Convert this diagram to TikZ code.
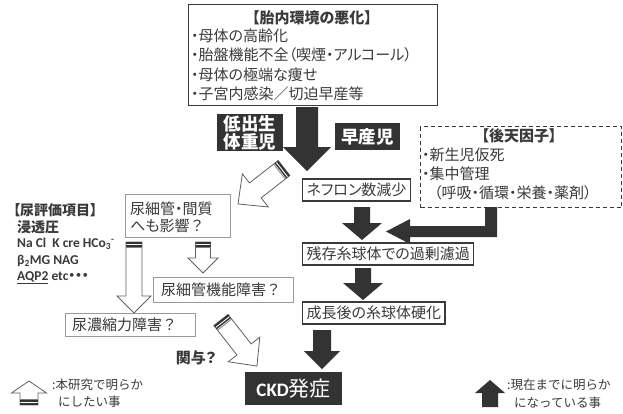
\documentclass[tikz,border=0pt]{standalone}
\usepackage{fontspec}
\setmainfont{Noto Sans CJK JP}[RawFeature=+palt]
\newfontfamily\jpm{Noto Sans CJK JP}
\newfontfamily\lat{Carlito}
\definecolor{dk}{HTML}{333333}
\definecolor{bx}{HTML}{3a3a3a}
\definecolor{lg}{HTML}{9a9a9a}
\newcommand{\fq}{{\jpm ？}}
\tikzset{
  jp/.style={inner sep=0pt, text=bx, font=\fontsize{15}{18}\selectfont},
  jpb/.style={inner sep=0pt, text=bx, font=\bfseries\fontsize{15}{18}\selectfont},
  jps/.style={inner sep=0pt, text=bx, font=\jpm\fontsize{12.5}{15}\selectfont},
  lt/.style={inner sep=0pt, text=bx, font=\lat\bfseries\fontsize{13.5}{16}\selectfont},
  rbox/.style={draw=bx, line width=1.1pt, inner sep=0pt},
  lbox/.style={draw=lg, line width=0.9pt, inner sep=0pt},
  dbox/.style={fill=dk, text=white, inner sep=0pt},
  wa/.style={draw=bx!80, line width=0.8pt, fill=white, line join=miter},
}
% #1 x, #2 y of tail centre, #3 angle, #4 length, #5 shaft half width, #6 head half width, #7 head length
\newcommand{\warrow}[7]{%
  \begin{scope}[shift={(#1,#2)}, rotate=#3]
    \draw[wa] (0,-#5) -- ({#4-#7},-#5) -- ({#4-#7},-#6) -- (#4,0) -- ({#4-#7},#6) -- ({#4-#7},#5) -- (0,#5) -- cycle;
    \fill[dk] (0,-#5) rectangle (2,#5);
    \fill[dk] (3.2,-#5) rectangle (4.6,#5);
    \fill[gray] (5.4,-#5) rectangle (6.2,#5);
  \end{scope}}
\newcommand{\darrow}[7]{%
  \begin{scope}[shift={(#1,#2)}, rotate=#3]
    \fill[dk] (0,-#5) -- ({#4-#7},-#5) -- ({#4-#7},-#6) -- (#4,0) -- ({#4-#7},#6) -- ({#4-#7},#5) -- (0,#5) -- cycle;
  \end{scope}}
\begin{document}
\begin{tikzpicture}[x=1pt, y=-1pt]
\useasboundingbox (0,0) rectangle (623,413);
\fill[white] (0,0) rectangle (623,413);

% top box
\node[rbox, anchor=north west, minimum width=249pt, minimum height=101pt] (env) at (188,4) {};
\node[jpb] (envt) at (312,18) {【胎内環境の悪化】};
\node[jp, anchor=west] (env1) at (191,36) {・母体の高齢化};
\node[jp, anchor=west] (env2) at (191,55) {・胎盤機能不全（喫煙・アルコール）};
\node[jp, anchor=west] (env3) at (191,75) {・母体の極端な痩せ};
\node[jp, anchor=west] (env4) at (191,94) {・子宮内感染／切迫早産等};

% dark labels
\node[dbox, anchor=north west, minimum width=66pt, minimum height=37pt, align=center, font=\bfseries\fontsize{17.5}{18.5}\selectfont] (lbw) at (217,114) {低出生\\体重児};
\node[dbox, anchor=north west, minimum width=65pt, minimum height=27pt, font=\bfseries\fontsize{17.5}{19}\selectfont] (pre) at (335,123) {早産児};

% big arrow
\darrow{307}{107}{-90}{64}{11}{24}{24}

% acquired factors
\node[draw=bx, dash pattern=on 4pt off 3pt, line width=1pt, anchor=north west, minimum width=201pt, minimum height=81pt, inner sep=0pt] (acq) at (420,126) {};
\node[jpb] (acqt) at (519,136) {【後天因子】};
\node[jp, anchor=west] (acq1) at (422,155) {・新生児仮死};
\node[jp, anchor=west] (acq2) at (422,174) {・集中管理};
\node[jp, anchor=west] (acq3) at (434,193) {（呼吸・循環・栄養・薬剤）};

% main chain
\node[rbox, jp, anchor=west, inner xsep=4pt, minimum height=22pt] (nef) at (302,190) {ネフロン数減少};
\node[rbox, jp, anchor=west, inner xsep=4pt, minimum height=22pt] (zan) at (302,254) {残存糸球体での過剰濾過};
\node[rbox, jp, anchor=west, inner xsep=4pt, minimum height=22pt] (sei) at (302,313) {成長後の糸球体硬化};
\node[dbox, anchor=north west, minimum width=97pt, minimum height=33pt] (ckd) at (245,372) {{\lat\bfseries\fontsize{19}{22}\selectfont CKD}{\fontsize{21}{22}\selectfont 発症}};

\darrow{362}{207}{-90}{33}{8}{20}{17}
\darrow{363}{268}{-90}{32}{8}{20}{17}
\darrow{322}{330}{-90}{39}{9}{18}{18}
\fill[dk] (485,207) -- (497,207) -- (497,237) -- (410,237) -- (410,244) -- (386,231.5) -- (410,219) -- (410,226) -- (485,226) -- cycle;

% left side
\node[lbox, anchor=north west, minimum width=105pt, minimum height=43pt] (tub) at (125,194) {};
\node[jp, anchor=west] (tub1) at (130,209) {尿細管・間質};
\node[jp, anchor=west] (tub2) at (130,226) {へも影響\fq};
\node[lbox, anchor=north west, minimum width=140pt, minimum height=25pt] (tfn) at (153,277) {};
\node[jp, anchor=west] (tfnt) at (161,289.5) {尿細管機能障害\fq};
\node[lbox, anchor=north west, minimum width=130pt, minimum height=23pt] (con) at (65,313) {};
\node[jp, anchor=west] (cont) at (72,324.5) {尿濃縮力障害\fq};

\warrow{284}{168}{218}{58.4}{9.5}{21}{22}
\warrow{134}{242}{-90}{71}{8}{17}{17}
\warrow{203}{242}{-90}{31}{7.5}{15}{15}
\warrow{221}{320}{-52}{58.4}{9}{20}{21}
\node[jpb] (kan) at (196,358) {関与？};

% urine evaluation items
\node[jpb, anchor=west, font=\bfseries\fontsize{14}{16}\selectfont] (ue) at (13,210) {【尿評価項目】};
\node[jpb, anchor=west, font=\bfseries\fontsize{14}{16}\selectfont] (osm) at (17,227) {浸透圧};
\node[lt, anchor=west] (el1) at (17,244) {Na Cl\ \ K cre HCo\textsubscript{3}\textsuperscript{-}};
\node[lt, anchor=west] (el2) at (17,261) {β\textsubscript{2}MG NAG};
\node[lt, anchor=west] (el3) at (17,278) {\underline{AQP2} etc{\normalfont\bfseries ・・・}};

% legend
\warrow{29}{405}{90}{24}{9}{17.5}{12}
\node[jps, anchor=west] (lg1) at (52,385) {:本研究で明らか};
\node[jps, anchor=west] (lg2) at (58,402) {にしたい事};
\darrow{490}{407}{90}{27}{8}{15}{13}
\node[jps, anchor=west] (lg3) at (507,385) {:現在までに明らか};
\node[jps, anchor=west] (lg4) at (514,403) {になっている事};
\end{tikzpicture}
\end{document}
